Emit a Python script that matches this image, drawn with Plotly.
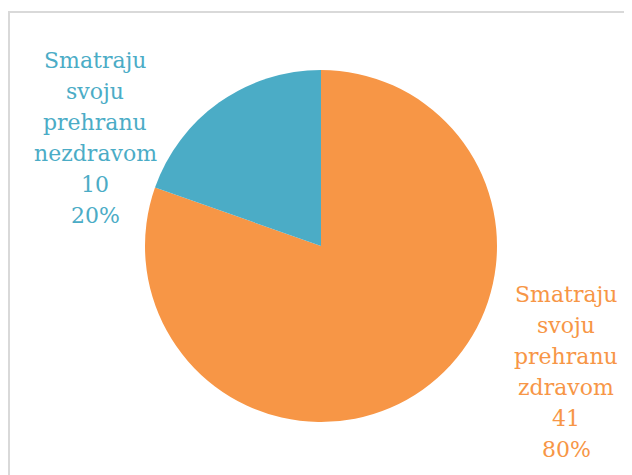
import plotly.graph_objects as go

labels = ["Smatraju svoju prehranu zdravom", "Smatraju svoju prehranu nezdravom"]
values = [41, 10]
percents = ["80%", "20%"]
colors = ["#F79646", "#4BACC6"]

# page has an 8px body margin; figure coordinates are page coordinates minus 8
OFF = 8
W, H = 632 - OFF, 475 - OFF

def px(x):
    return (x - OFF) / W

def py(y):
    return 1 - (y - OFF) / H

cx, cy, r = 321, 246, 176

fig = go.Figure(go.Pie(
    labels=labels, values=values, sort=False, direction="clockwise", rotation=0,
    marker=dict(colors=colors, line=dict(width=0)),
    textinfo="none", hoverinfo="label+value+percent", showlegend=False,
    domain=dict(x=[px(cx - r), px(cx + r)], y=[py(cy + r), py(cy - r)]),
))

def label_lines(name, v, p):
    return name.split(" ") + [str(v), p]

LINE = 31
ann_pos = [(566, 372), (95, 138)]
for (name, v, p, c, (ax, ay)) in zip(labels, values, percents, colors, ann_pos):
    lines = label_lines(name, v, p)
    n = len(lines)
    for i, t in enumerate(lines):
        fig.add_annotation(
            x=px(ax), y=py(ay + (i - (n - 1) / 2) * LINE), xref="paper", yref="paper",
            text=t, showarrow=False,
            xanchor="center", yanchor="middle", align="center",
            font=dict(family="DejaVu Serif", size=22, color=c),
        )

fig.add_shape(type="rect", xref="paper", yref="paper",
              x0=px(9), x1=px(631), y0=-0.1, y1=py(12),
              line=dict(color="#D9D9D9", width=2), fillcolor="rgba(0,0,0,0)")

fig.update_layout(width=W, height=H, margin=dict(l=0, r=0, t=0, b=0),
                  paper_bgcolor="white", plot_bgcolor="white")
fig.write_html("out.html")
